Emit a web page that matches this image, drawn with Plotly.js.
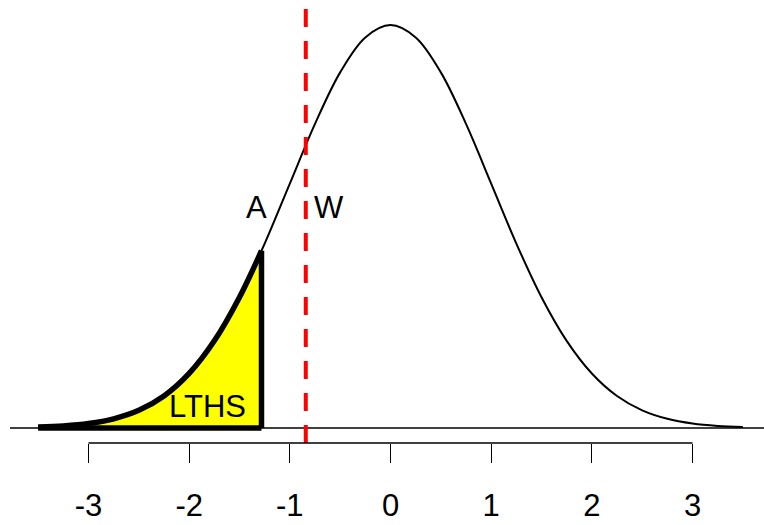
<!DOCTYPE html>
<html>
<head>
<meta charset="utf-8">
<script src="https://cdn.plot.ly/plotly-3.0.1.min.js"></script>
<style>html,body{margin:0;padding:0;background:#fff;}#chart{width:764px;height:525px;}</style>
</head>
<body>
<div id="chart"></div>
<script>
// Density curve values (x step 0.25)
var curveX = [-3.5,-3.25,-3,-2.75,-2.5,-2.25,-2,-1.75,-1.5,-1.25,-1,-0.75,-0.5,-0.25,0,0.25,0.5,0.75,1,1.25,1.5,1.75,2,2.25,2.5,2.75,3,3.25,3.5];
var curveY = [0.0009,0.0020,0.0044,0.0091,0.0175,0.0317,0.0540,0.0863,0.1295,0.1826,0.2420,0.3011,0.3521,0.3867,0.3989,0.3867,0.3521,0.3011,0.2420,0.1826,0.1295,0.0863,0.0540,0.0317,0.0175,0.0091,0.0044,0.0020,0.0009];
// Shaded lower tail (up to the cutoff)
var tailX = [-3.5,-3.25,-3,-2.75,-2.5,-2.25,-2,-1.75,-1.5,-1.2816];
var tailY = [0.0009,0.0020,0.0044,0.0091,0.0175,0.0317,0.0540,0.0863,0.1295,0.1755];
var cutoffX = -1.2816;
var cutoffY = 0.1755;
var dashedX = -0.8416;
var tickVals = [-3,-2,-1,0,1,2,3];
var tickText = ["-3","-2","-1","0","1","2","3"];
var labels = [
  {text:"A", x:-1.33, y:0.2188},
  {text:"W", x:-0.611, y:0.2188},
  {text:"LTHS", x:-1.813, y:0.0208}
];

var font = "Liberation Sans, Arial, Helvetica, sans-serif";

var traces = [
  {x: tailX, y: tailY, type:"scatter", mode:"lines", fill:"tozeroy", fillcolor:"#FFFF00",
   line:{width:0, shape:"spline", color:"rgba(0,0,0,0)"}, hoverinfo:"skip"},
  {x: curveX, y: curveY, type:"scatter", mode:"lines", line:{color:"#000", width:2, shape:"spline"}, hoverinfo:"skip"},
  {x: tailX, y: tailY, type:"scatter", mode:"lines", line:{color:"#000", width:5.5, shape:"spline"}, hoverinfo:"skip"}
];

var shapes = [
  // thin baseline across the plot region
  {type:"line", xref:"x", yref:"y", x0:-3.78, x1:3.72, y0:0, y1:0, line:{color:"#000", width:1.5}, layer:"below"},
  // thick tail border
  {type:"line", xref:"x", yref:"y", x0:tailX[0], x1:cutoffX, y0:0, y1:0, line:{color:"#000", width:5.5}},
  {type:"line", xref:"x", yref:"y", x0:cutoffX, x1:cutoffX, y0:0, y1:cutoffY, line:{color:"#000", width:5.5}},
  // red dashed line
  {type:"line", xref:"x", yref:"paper", x0:dashedX, x1:dashedX, y0:0.9797, y1:0, line:{color:"#FF0000", width:4, dash:"18px,14px"}},
  // axis line from -3 to 3
  {type:"line", xref:"x", yref:"paper", x0:tickVals[0], x1:tickVals[tickVals.length-1], y0:0, y1:0, line:{color:"#000", width:1.3}}
];

var annotations = labels.map(function(l){
  return {text:l.text, x:l.x, y:l.y, xref:"x", yref:"y", showarrow:false, xanchor:"center", yanchor:"middle",
          font:{family:font, size:31, color:"#000"}};
});

var layout = {
  width:764, height:525,
  margin:{l:0, r:0, t:0, b:82, pad:0},
  paper_bgcolor:"#fff", plot_bgcolor:"#fff",
  showlegend:false,
  xaxis:{range:[-3.879,3.710], showgrid:false, zeroline:false, showline:false,
         tickmode:"array", tickvals:tickVals, ticktext:tickText, ticks:"outside", ticklen:19, tickwidth:1.3, tickcolor:"#000",
         ticklabelstandoff:16,
         tickfont:{family:font, size:31, color:"#000"}, fixedrange:true},
  yaxis:{range:[-0.01485,0.42376], visible:false, showgrid:false, zeroline:false, fixedrange:true},
  shapes:shapes,
  annotations:annotations
};

Plotly.newPlot("chart", traces, layout, {displayModeBar:false, staticPlot:true});
</script>
</body>
</html>
